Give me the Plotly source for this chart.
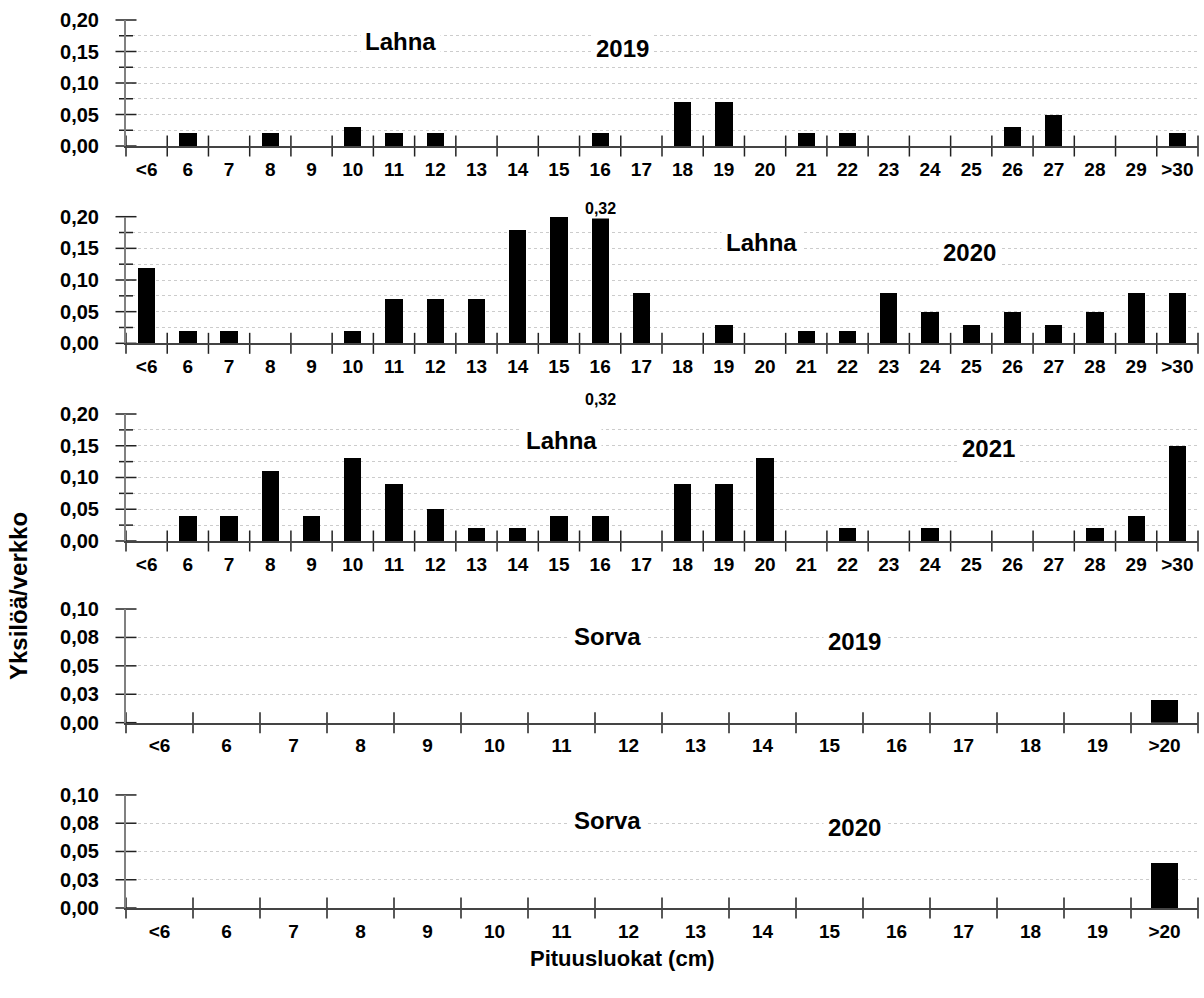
import plotly.graph_objects as go

# ---------------- data ----------------
lahna_classes = ["<6", "6", "7", "8", "9", "10", "11", "12", "13", "14", "15", "16", "17",
                 "18", "19", "20", "21", "22", "23", "24", "25", "26", "27", "28", "29", ">30"]
sorva_classes = ["<6", "6", "7", "8", "9", "10", "11", "12", "13", "14", "15", "16", "17",
                 "18", "19", ">20"]

lahna_2019 = [0, 0.02, 0, 0.02, 0, 0.03, 0.02, 0.02, 0, 0, 0, 0.02, 0,
              0.07, 0.07, 0, 0.02, 0.02, 0, 0, 0, 0.03, 0.05, 0, 0, 0.02]
lahna_2020 = [0.12, 0.02, 0.02, 0, 0, 0.02, 0.07, 0.07, 0.07, 0.18, 0.20, 0.32, 0.08,
              0, 0.03, 0, 0.02, 0.02, 0.08, 0.05, 0.03, 0.05, 0.03, 0.05, 0.08, 0.08]
lahna_2021 = [0, 0.04, 0.04, 0.11, 0.04, 0.13, 0.09, 0.05, 0.02, 0.02, 0.04, 0.04, 0,
              0.09, 0.09, 0.13, 0, 0.02, 0, 0.02, 0, 0, 0, 0.02, 0.04, 0.15]
sorva_2019 = [0, 0, 0, 0, 0, 0, 0, 0, 0, 0, 0, 0, 0, 0, 0, 0.02]
sorva_2020 = [0, 0, 0, 0, 0, 0, 0, 0, 0, 0, 0, 0, 0, 0, 0, 0.04]

lahna_yticks = [0, 0.05, 0.10, 0.15, 0.20]
lahna_yticktext = ["0,00", "0,05", "0,10", "0,15", "0,20"]
lahna_grid = [0.025, 0.05, 0.075, 0.10, 0.125, 0.15, 0.175, 0.20]
sorva_yticks = [0, 0.025, 0.05, 0.075, 0.10]
sorva_yticktext = ["0,00", "0,03", "0,05", "0,08", "0,10"]
sorva_grid = [0.025, 0.05, 0.075, 0.10]

# ---------------- layout specs ----------------
FONT = "Liberation Sans, Arial, sans-serif"
panels = [
    dict(cats=lahna_classes, vals=lahna_2019, ymax=0.20, tv=lahna_yticks, tt=lahna_yticktext,
         grid=lahna_grid, dom=[0.8581, 1.0], bw=0.42,
         labels=[("Lahna", 0.2556, 0.833), ("2019", 0.4636, 0.770)]),
    dict(cats=lahna_classes, vals=lahna_2020, ymax=0.20, tv=lahna_yticks, tt=lahna_yticktext,
         grid=lahna_grid, dom=[0.6359, 0.7785], bw=0.42,
         labels=[("Lahna", 0.5924, 0.796), ("2020", 0.7873, 0.720)]),
    dict(cats=lahna_classes, vals=lahna_2021, ymax=0.20, tv=lahna_yticks, tt=lahna_yticktext,
         grid=lahna_grid, dom=[0.4133, 0.5563], bw=0.42,
         labels=[("Lahna", 0.4058, 0.795), ("2021", 0.8050, 0.732)]),
    dict(cats=sorva_classes, vals=sorva_2019, ymax=0.10, tv=sorva_yticks, tt=sorva_yticktext,
         grid=sorva_grid, dom=[0.2087, 0.3367], bw=0.40,
         labels=[("Sorva", 0.4487, 0.762), ("2019", 0.6796, 0.710)]),
    dict(cats=sorva_classes, vals=sorva_2020, ymax=0.10, tv=sorva_yticks, tt=sorva_yticktext,
         grid=sorva_grid, dom=[0.0, 0.1273], bw=0.40,
         labels=[("Sorva", 0.4487, 0.778), ("2020", 0.6796, 0.712)]),
]

fig = go.Figure()
annotations = []
TICKCOL = "#222222"

for i, p in enumerate(panels, start=1):
    sfx = "" if i == 1 else str(i)
    xa, ya = "x" + sfx, "y" + sfx
    n = len(p["cats"])
    idx = list(range(n))
    fig.add_trace(go.Bar(x=idx, y=p["vals"], width=p["bw"],
                         marker=dict(color="black", line=dict(width=0)),
                         xaxis=xa, yaxis=ya, showlegend=False, hoverinfo="skip"))
    # crossing tick marks on x axis (category boundaries)
    fig.add_trace(go.Scatter(x=[j - 0.5 for j in range(n + 1)], y=[0] * (n + 1), mode="markers",
                             marker=dict(symbol="line-ns", size=15, color=TICKCOL,
                                         line=dict(width=1.5, color=TICKCOL)),
                             cliponaxis=False, xaxis=xa, yaxis=ya, showlegend=False,
                             hoverinfo="skip"))
    # crossing tick marks on y axis
    major = p["tv"]
    minor = [g for g in p["grid"] if g not in major]
    fig.add_trace(go.Scatter(x=[-0.5] * len(major), y=major, mode="markers",
                             marker=dict(symbol="line-ew", size=15, color=TICKCOL,
                                         line=dict(width=1.5, color=TICKCOL)),
                             cliponaxis=False, xaxis=xa, yaxis=ya, showlegend=False,
                             hoverinfo="skip"))
    if minor:
        fig.add_trace(go.Scatter(x=[-0.5] * len(minor), y=minor, mode="markers",
                                 marker=dict(symbol="line-ew", size=10, color=TICKCOL,
                                             line=dict(width=1.5, color=TICKCOL)),
                                 cliponaxis=False, xaxis=xa, yaxis=ya, showlegend=False,
                                 hoverinfo="skip"))
    xkey = "xaxis" + sfx
    ykey = "yaxis" + sfx
    fig.layout[xkey] = dict(domain=[0, 1], anchor=ya, range=[-0.5, n - 0.5],
                            tickvals=idx, ticktext=p["cats"], ticks="outside", ticklen=5,
                            tickcolor="rgba(0,0,0,0)", showgrid=False, zeroline=False,
                            showline=True, linecolor="#444444", linewidth=2,
                            tickfont=dict(family=FONT, size=19, color="black", weight="bold"),
                            fixedrange=True)
    fig.layout[ykey] = dict(domain=p["dom"], anchor=xa, range=[0, p["ymax"]],
                            tickvals=p["tv"], ticktext=p["tt"], ticks="outside", ticklen=8,
                            tickcolor="rgba(0,0,0,0)", showgrid=False, zeroline=False,
                            showline=True, linecolor="#808080", linewidth=2,
                            minor=dict(tickvals=p["grid"], showgrid=True, gridcolor="#cccccc",
                                       griddash="dot", gridwidth=1, ticks=""),
                            ticklabelstandoff=13,
                            tickfont=dict(family=FONT, size=20, color="black", weight="bold"),
                            fixedrange=True)
    for text, xd, yd in p["labels"]:
        annotations.append(dict(text="<b>%s</b>" % text, xref=xa + " domain", yref=ya + " domain",
                                x=xd, y=yd, xanchor="center", yanchor="middle",
                                showarrow=False, bgcolor="white", borderpad=4,
                                font=dict(family=FONT, size=24, color="black")))

# value label for the clipped 16 cm bar (2020) and its duplicate above 2021 panel
annotations.append(dict(text="<b>0,32</b>", xref="x2", yref="y2 domain",
                        x=lahna_classes.index("16"), y=1.0, xanchor="center", yanchor="bottom",
                        yshift=-2, showarrow=False, bgcolor="white", borderpad=1,
                        font=dict(family=FONT, size=16, color="black")))
annotations.append(dict(text="<b>0,32</b>", xref="x3", yref="y3 domain",
                        x=lahna_classes.index("16"), y=1.0, xanchor="center", yanchor="bottom",
                        yshift=4, showarrow=False, font=dict(family=FONT, size=16, color="black")))

# axis titles
annotations.append(dict(text="<b>Pituusluokat (cm)</b>", xref="paper", yref="paper",
                        x=(622 - 126) / 1072, y=(908 - 958) / 888, xanchor="center",
                        yanchor="middle", showarrow=False,
                        font=dict(family=FONT, size=22, color="black")))
annotations.append(dict(text="<b>Yksilöä/verkko</b>", xref="paper", yref="paper",
                        x=(18 - 126) / 1072, y=(908 - 596) / 888, xanchor="center",
                        yanchor="middle", showarrow=False, textangle=-90,
                        font=dict(family=FONT, size=24, color="black")))

fig.update_layout(width=1204, height=998, margin=dict(l=126, r=6, t=20, b=90),
                  paper_bgcolor="white", plot_bgcolor="white", bargap=0,
                  annotations=annotations, showlegend=False)

fig.write_html("out.html", config={"displayModeBar": False},
               post_script="document.body.style.margin='0';")
